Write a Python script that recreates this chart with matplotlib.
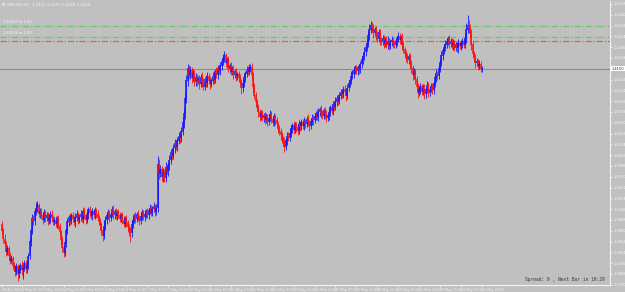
import matplotlib
matplotlib.use("Agg")
from matplotlib import pyplot as plt
import numpy as np

# GBPUSD H1, closes in pips (1.xxxx -> xxxx), first bar = 30 Apr 16:00
closes = [
    3880, 3866, 3858, 3845, 3850, 3838, 3830, 3834, 3822, 3818,
    3812, 3820, 3808, 3815, 3822, 3814, 3818, 3826, 3816, 3822,
    3838, 3862, 3880, 3900, 3896, 3912, 3918, 3922, 3908, 3912,
    3905, 3898, 3910, 3902, 3906, 3896, 3900, 3908, 3902, 3895,
    3898, 3892, 3900, 3888, 3878, 3865, 3852, 3843, 3860, 3880,
    3895, 3902, 3896, 3905, 3900, 3894, 3902, 3908, 3898, 3903,
    3908, 3900, 3912, 3905, 3898, 3906, 3915, 3910, 3904, 3912,
    3906, 3914, 3908, 3902, 3896, 3890, 3880, 3872, 3888, 3898,
    3905, 3910, 3902, 3908, 3915, 3906, 3912, 3904, 3910, 3906,
    3900, 3906, 3898, 3892, 3900, 3894, 3886, 3880, 3876, 3890,
    3898, 3905, 3900, 3908, 3902, 3896, 3904, 3910, 3903, 3908,
    3912, 3906, 3914, 3918, 3910, 3916, 3920, 3912, 3918, 3990,
    3975, 3982, 3970, 3978, 3968, 3985, 3980, 3988, 3998, 4010,
    4005, 4018, 4025, 4020, 4030, 4038, 4035, 4045, 4060, 4075,
    4100, 4130, 4150, 4140, 4148, 4135, 4142, 4128, 4136, 4130,
    4132, 4124, 4136, 4128, 4120, 4132, 4126, 4138, 4130, 4124,
    4130, 4138, 4132, 4145, 4140, 4150, 4146, 4155, 4162, 4168,
    4172, 4160, 4164, 4150, 4155, 4145, 4150, 4140, 4145, 4138,
    4140, 4135, 4128, 4118, 4125, 4135, 4142, 4148, 4145, 4150,
    4152, 4140, 4120, 4105, 4095, 4085, 4078, 4070, 4075, 4068,
    4072, 4065, 4070, 4062, 4068, 4074, 4066, 4060, 4070, 4064,
    4058, 4050, 4045, 4040, 4032, 4028, 4020, 4030, 4038, 4035,
    4042, 4050, 4055, 4048, 4056, 4052, 4046, 4058, 4054, 4060,
    4055, 4062, 4058, 4066, 4060, 4054, 4062, 4068, 4064, 4070,
    4075, 4070, 4078, 4082, 4076, 4072, 4080, 4074, 4068, 4072,
    4078, 4085, 4080, 4090, 4086, 4095, 4100, 4096, 4105, 4110,
    4108, 4115, 4112, 4105, 4118, 4126, 4130, 4138, 4142, 4148,
    4150, 4146, 4152, 4148, 4158, 4165, 4170, 4178, 4185, 4192,
    4205, 4215, 4222, 4218, 4210, 4215, 4205, 4200, 4210, 4198,
    4195, 4200, 4192, 4198, 4190, 4196, 4188, 4194, 4198, 4192,
    4190, 4195, 4200, 4204, 4198, 4202, 4190, 4182, 4175, 4170,
    4165, 4170, 4160, 4150, 4140, 4145, 4132, 4120, 4110, 4115,
    4120, 4112, 4118, 4108, 4115, 4122, 4110, 4116, 4120, 4114,
    4125, 4135, 4142, 4138, 4150, 4160, 4172, 4180, 4185, 4190,
    4195, 4200, 4192, 4196, 4188, 4192, 4185, 4190, 4184, 4192,
    4188, 4192, 4195, 4190, 4200, 4215, 4222, 4218, 4210, 4190,
    4175, 4168, 4160, 4162, 4155, 4158, 4150, 4150,
]
first_open = 3890

# wick lengths above / below the body, pips
up_wick = [
    6, 4, 8, 5, 7, 4, 6, 5, 4, 6,   5, 7, 4, 6, 5, 8, 4, 6, 5, 7,
    5, 6, 4, 8, 6, 5, 10, 7, 5, 6,  6, 5, 7, 4, 6, 5, 8, 5, 6, 4,
    5, 7, 4, 6, 5, 4, 6, 5, 7, 6,   6, 5, 8, 4, 6, 5, 7, 6, 4, 5,
    7, 5, 6, 8, 4, 6, 5, 7, 5, 6,   5, 6, 4, 7, 5, 6, 4, 5, 8, 6,
    6, 7, 5, 4, 6, 8, 5, 6, 4, 7,   5, 4, 6, 7, 5, 6, 4, 5, 6, 8,
    6, 5, 7, 4, 6, 5, 8, 6, 5, 7,   5, 6, 4, 7, 5, 6, 8, 5, 6, 15,
    10, 8, 6, 7, 5, 9, 6, 7, 8, 6,  7, 6, 8, 5, 7, 6, 5, 8, 9, 10,
    12, 10, 8, 6, 7, 5, 8, 6, 7, 5, 6, 7, 5, 8, 6, 5, 7, 6, 5, 8,
    5, 6, 7, 5, 8, 6, 5, 7, 6, 7,   8, 5, 6, 7, 5, 6, 5, 7, 5, 6,
    5, 7, 6, 5, 8, 6, 5, 7, 6, 8,   6, 8, 5, 6, 7, 5, 6, 5, 7, 6,
    5, 6, 7, 5, 6, 8, 5, 6, 7, 5,   6, 5, 7, 6, 5, 6, 8, 5, 6, 7,
    7, 6, 5, 8, 6, 5, 7, 6, 5, 6,   6, 7, 5, 6, 8, 5, 6, 7, 5, 6,
    5, 8, 6, 5, 7, 6, 5, 6, 7, 5,   6, 5, 7, 6, 5, 8, 6, 5, 7, 6,
    5, 6, 8, 5, 7, 6, 5, 8, 6, 7,   6, 7, 5, 6, 5, 7, 6, 8, 6, 7,
    8, 10, 8, 6, 7, 5, 6, 8, 6, 7,  5, 6, 7, 5, 6, 8, 5, 6, 7, 5,
    6, 7, 5, 8, 6, 5, 7, 6, 5, 6,   7, 5, 6, 5, 7, 6, 5, 6, 7, 5,
    6, 5, 7, 6, 5, 7, 6, 5, 6, 7,   5, 6, 7, 5, 8, 6, 7, 5, 6, 8,
    6, 5, 7, 6, 5, 7, 6, 5, 6, 7,   5, 6, 7, 5, 8, 12, 18, 10, 6, 7,
    6, 5, 7, 6, 5, 6, 5, 4,
]
dn_wick = [
    5, 6, 4, 7, 5, 6, 5, 4, 6, 5,   8, 5, 12, 6, 5, 7, 14, 5, 6, 7,
    6, 5, 7, 5, 6, 7, 5, 6, 5, 7,   5, 6, 4, 7, 5, 6, 5, 7, 6, 5,
    6, 5, 7, 5, 6, 7, 8, 6, 5, 7,   5, 7, 6, 5, 6, 5, 7, 5, 6, 5,
    6, 5, 7, 5, 6, 5, 6, 7, 5, 6,   5, 6, 7, 5, 6, 8, 7, 9, 5, 6,
    6, 5, 7, 6, 5, 6, 7, 5, 6, 5,   5, 6, 7, 5, 6, 7, 8, 9, 14, 6,
    6, 5, 7, 5, 6, 7, 5, 6, 5, 7,   6, 5, 7, 6, 5, 6, 5, 7, 6, 6,
    8, 6, 7, 9, 6, 7, 6, 8, 7, 6,   7, 6, 8, 6, 7, 6, 8, 7, 6, 8,
    8, 7, 9, 6, 7, 8, 6, 7, 6, 8,   6, 7, 5, 8, 6, 5, 7, 6, 5, 8,
    5, 6, 7, 5, 6, 7, 5, 6, 7, 5,   6, 7, 5, 6, 7, 5, 6, 7, 5, 8,
    6, 7, 5, 10, 6, 5, 7, 6, 5, 6,  5, 7, 8, 6, 7, 6, 8, 7, 6, 5,
    6, 7, 5, 8, 6, 5, 7, 6, 5, 7,   6, 7, 5, 8, 6, 7, 8, 6, 7, 5,
    6, 5, 7, 6, 5, 7, 6, 5, 7, 6,   5, 7, 6, 5, 6, 8, 5, 6, 7, 5,
    6, 5, 7, 6, 8, 5, 6, 7, 6, 5,   8, 6, 5, 7, 6, 5, 7, 6, 5, 6,
    6, 7, 5, 8, 6, 5, 7, 6, 5, 7,   6, 5, 7, 6, 5, 6, 7, 5, 6, 5,
    6, 7, 5, 6, 8, 6, 7, 5, 6, 8,   6, 5, 7, 6, 5, 7, 6, 5, 6, 7,
    5, 6, 7, 5, 6, 7, 8, 6, 7, 8,   6, 7, 8, 7, 8, 6, 8, 7, 8, 6,
    7, 6, 5, 8, 6, 5, 7, 6, 5, 6,   6, 5, 7, 6, 5, 6, 5, 7, 6, 5,
    6, 5, 7, 6, 5, 7, 6, 5, 6, 7,   5, 6, 7, 5, 6, 7, 6, 8, 7, 8,
    7, 6, 8, 6, 7, 5, 6, 5,
]

date_labels = ["30 Apr 2021", "3 May 07:00", "3 May 23:00", "4 May 15:00",
               "5 May 07:00", "5 May 23:00", "6 May 15:00", "7 May 07:00",
               "7 May 23:00", "10 May 15:00", "11 May 07:00", "11 May 23:00",
               "12 May 15:00", "13 May 07:00", "13 May 23:00", "14 May 15:00",
               "17 May 07:00", "17 May 23:00", "18 May 15:00", "19 May 07:00",
               "19 May 23:00", "20 May 15:00", "21 May 07:00", "21 May 23:00"]
date_bars = [0, 15, 31, 47, 63, 79, 95, 111, 127, 143, 159, 175, 191, 207,
             223, 239, 255, 271, 287, 303, 319, 335, 351, 367]

levels = [1.4222, 1.4203, 1.4197]
level_colors = ["#6cc46c", "#6cc46c", "#e2604f"]
level_texts = ["1.42217 at 1.00", "1.42034 at 1.00", None]

bid = 1.4150
title = "GBPUSD,H1  1.4152 1.4157 1.4148 1.4150"

c = np.array(closes) / 10000 + 1
o = np.concatenate([[first_open / 10000 + 1], c[:-1]])
hi = np.maximum(o, c) + np.array(up_wick) / 10000
lo = np.minimum(o, c) - np.array(dn_wick) / 10000
x = np.arange(len(c))
col = np.where(c >= o, "#1515ff", "#ff1010")

bg = "#c0c0c0"
fg = "#f4f4f4"
fig = plt.figure(figsize=(6.25, 2.92), dpi=100, facecolor=bg)
ax = fig.add_axes([0, 7 / 292, 610 / 625, 284 / 292], facecolor=bg)

# levels and bid line
for lv, lc, lt in zip(levels, level_colors, level_texts):
    ax.axhline(lv, color=lc, lw=0.9, linestyle=(0, (5, 1.5, 1, 1.5)), zorder=1)
    if lt:
        ax.text(1, lv + 0.0003, lt, fontsize=2.6, color=fg, va="bottom", ha="left")
ax.axhline(bid, color="#8a8a8a", lw=0.8, zorder=1)

ax.vlines(x, lo, hi, colors=col, lw=0.6, zorder=2)
body_lo = np.minimum(o, c)
body_hi = np.maximum(o, c) + 0.00005
ax.vlines(x, body_lo, body_hi, colors=col, lw=1.1, zorder=3)

ax.set_xlim(-1.6, 465)
ax.set_ylim(1.37895, 1.4263)

for s in ["top", "left"]:
    ax.spines[s].set_visible(False)
for s in ["right", "bottom"]:
    ax.spines[s].set_color(fg)
    ax.spines[s].set_linewidth(0.8)

yt = 1.3790 + 0.0018 * np.arange(27)
ax.yaxis.tick_right()
ax.set_yticks(yt)
ax.set_yticklabels([f"{v:.4f}" for v in yt])
ax.set_xticks(date_bars)
ax.set_xticklabels(date_labels, ha="left")
ax.tick_params(axis="y", colors=fg, labelsize=2.6, length=1.5, width=0.6, pad=0.8)
ax.tick_params(axis="x", colors=fg, labelsize=2.3, length=1.5, width=0.6, pad=0.3)

ax.annotate(f"{bid:.4f}", xy=(1.0, bid), xycoords=("axes fraction", "data"),
            xytext=(1.5, 0), textcoords="offset points", fontsize=2.6, color="#303030",
            va="center", ha="left",
            bbox=dict(boxstyle="square,pad=0.2", fc="white", ec="none"))

fig.text(2 / 625, 1 - 4 / 292, "▼ " + title, fontsize=2.8, color=fg, va="center", ha="left")
ax.text(0.992, 0.012, "Spread: 9 , Next Bar in 19:29", transform=ax.transAxes,
        fontsize=3.3, family="DejaVu Sans Mono", color="#383838", ha="right", va="bottom")

fig.savefig("out.png", dpi=100, facecolor=bg)
